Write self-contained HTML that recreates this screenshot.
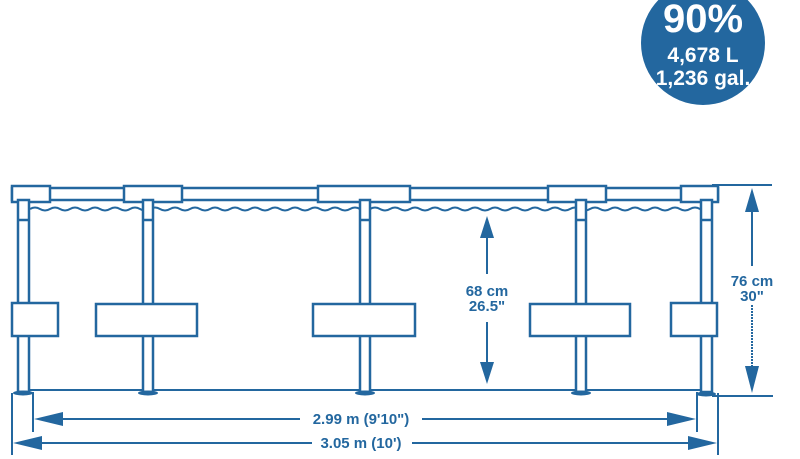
<!DOCTYPE html>
<html><head><style>
html,body{margin:0;padding:0;background:#fff;}
svg{display:block}
text{font-family:"Liberation Sans",sans-serif;font-weight:bold;}
</style></head><body>
<svg width="800" height="459" viewBox="0 0 800 459">
<g fill="none" stroke="#23679f" stroke-width="2.5">
<rect x="12" y="188" width="706" height="12"/>
<rect x="12" y="186" width="38" height="16" fill="#fff"/>
<rect x="124" y="186" width="58" height="16" fill="#fff"/>
<rect x="318" y="186" width="92" height="16" fill="#fff"/>
<rect x="548" y="186" width="58" height="16" fill="#fff"/>
<rect x="681" y="186" width="37" height="16" fill="#fff"/>
<path d="M30 209 q5 -3 10 0 t10 0 t10 0 t10 0 t10 0 t10 0 t10 0 t10 0 t10 0 t10 0 t10 0 t10 0 t10 0 t10 0 t10 0 t10 0 t10 0 t10 0 t10 0 t10 0 t10 0 t10 0 t10 0 t10 0 t10 0 t10 0 t10 0 t10 0 t10 0 t10 0 t10 0 t10 0 t10 0 t10 0 t10 0 t10 0 t10 0 t10 0 t10 0 t10 0 t10 0 t10 0 t10 0 t10 0 t10 0 t10 0 t10 0 t10 0 t10 0 t10 0 t10 0 t10 0 t10 0 t10 0 t10 0 t10 0 t10 0 t10 0 t10 0 t10 0 t10 0 t10 0 t10 0 t10 0 t10 0 t10 0 t10 0 t10 0" stroke-width="2"/>
<line x1="30" y1="390" x2="702" y2="390" stroke-width="2"/>
<g fill="#fff">
<rect x="18" y="200" width="11" height="192"/>
<rect x="143" y="200" width="10" height="192"/>
<rect x="360" y="200" width="10" height="192"/>
<rect x="576" y="200" width="10" height="192"/>
<rect x="701" y="200" width="11" height="192"/>
</g>
<line x1="18" y1="220" x2="29" y2="220"/><line x1="143" y1="220" x2="153" y2="220"/>
<line x1="360" y1="220" x2="370" y2="220"/><line x1="576" y1="220" x2="586" y2="220"/>
<line x1="701" y1="220" x2="712" y2="220"/>
<g fill="#23679f" stroke="none">
<ellipse cx="23" cy="393" rx="10" ry="2.5"/><ellipse cx="148" cy="393" rx="10" ry="2.5"/>
<ellipse cx="365" cy="393" rx="10" ry="2.5"/><ellipse cx="581" cy="393" rx="10" ry="2.5"/>
<ellipse cx="706" cy="394" rx="10" ry="2.5"/>
</g>
<g fill="#fff">
<rect x="12" y="303" width="46" height="33"/>
<rect x="96" y="304" width="101" height="32"/>
<rect x="313" y="304" width="102" height="32"/>
<rect x="530" y="304" width="100" height="32"/>
<rect x="671" y="303" width="46" height="33"/>
</g>
<line x1="712" y1="185" x2="772" y2="185" stroke-width="2"/>
<line x1="752" y1="200" x2="752" y2="266" stroke-width="2"/>
<line x1="752" y1="305" x2="752" y2="380" stroke-width="2" stroke-dasharray="2 1"/>
<line x1="487" y1="225" x2="487" y2="274" stroke-width="2"/>
<line x1="487" y1="322" x2="487" y2="375" stroke-width="2"/>
<line x1="33" y1="392" x2="33" y2="432" stroke-width="2"/>
<line x1="697" y1="392" x2="697" y2="432" stroke-width="2"/>
<line x1="12" y1="393" x2="12" y2="455" stroke-width="2"/>
<line x1="718" y1="393" x2="718" y2="455" stroke-width="2"/>
<line x1="45" y1="419" x2="300" y2="419" stroke-width="2"/>
<line x1="422" y1="419" x2="685" y2="419" stroke-width="2"/>
<line x1="25" y1="443" x2="312" y2="443" stroke-width="2"/>
<line x1="412" y1="443" x2="705" y2="443" stroke-width="2"/>
</g>
<rect x="720" y="200" width="30" height="190" fill="#fff"/>
<line x1="712" y1="396" x2="773" y2="396" stroke="#23679f" stroke-width="2"/>
<g fill="#23679f">
<polygon points="752,188 745,212 759,212"/>
<polygon points="752,393 745,366 759,366"/>
<polygon points="487,216 480,238 494,238"/>
<polygon points="487,384 480,362 494,362"/>
<polygon points="34,419 63,412 63,426"/>
<polygon points="696,419 667,412 667,426"/>
<polygon points="13,443 42,436 42,450"/>
<polygon points="717,443 688,436 688,450"/>
<circle cx="703" cy="43" r="62"/>
</g>
<g fill="#23679f" text-anchor="middle" font-size="15">
<text x="752" y="286">76 cm</text><text x="752" y="301">30"</text>
<text x="487" y="296">68 cm</text><text x="487" y="311">26.5"</text>
<text x="361" y="424">2.99 m (9'10")</text>
<text x="361" y="448">3.05 m (10')</text>
</g>
<g fill="#fff" text-anchor="middle">
<text x="703" y="32" font-size="40">90%</text>
<text x="703" y="62" font-size="21">4,678 L</text>
<text x="703" y="85" font-size="21">1,236 gal.</text>
</g>
</svg>
</body></html>
